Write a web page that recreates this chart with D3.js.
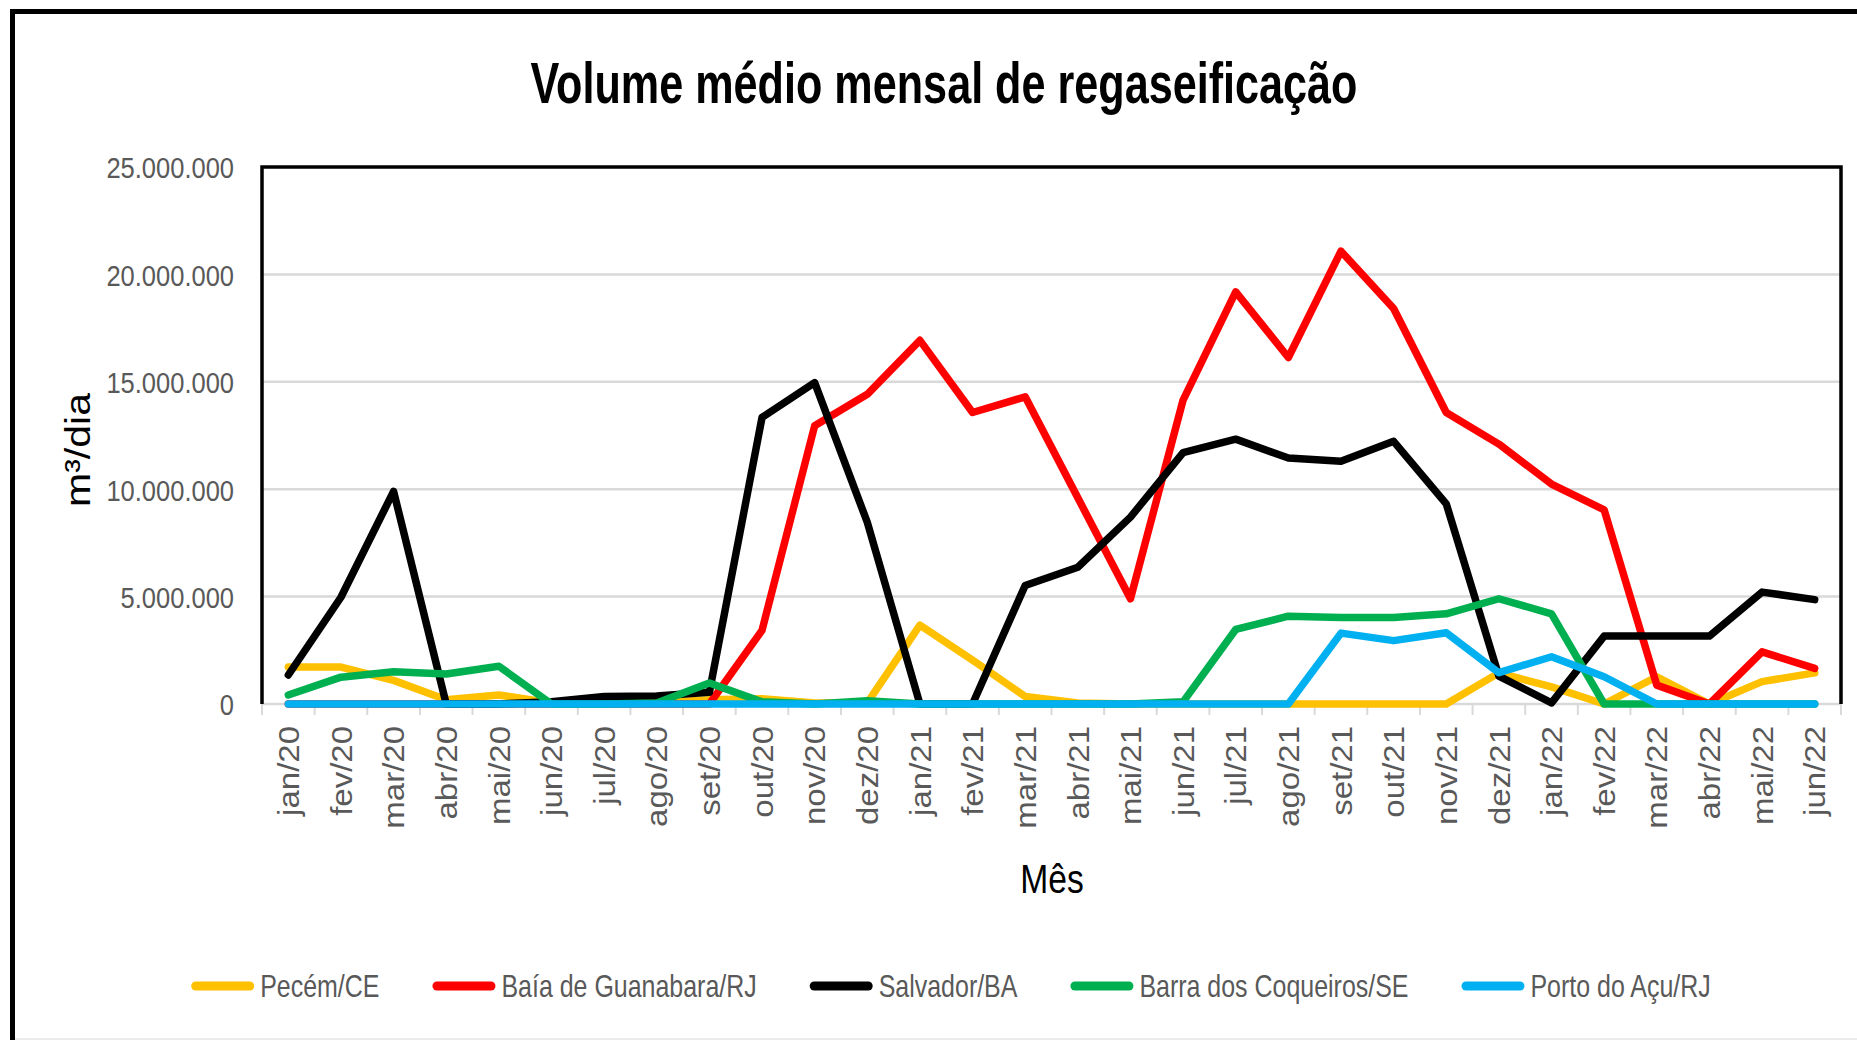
<!DOCTYPE html>
<html>
<head>
<meta charset="utf-8">
<script src="https://cdn.jsdelivr.net/npm/d3@7"></script>
<style>
  html, body { margin: 0; padding: 0; background: #fff; }
  svg { display: block; font-family: 'Liberation Sans', Arial, sans-serif; }
</style>
</head>
<body>
<div id="chart"></div>
<script>
const months = [
  'jan/20', 'fev/20', 'mar/20', 'abr/20', 'mai/20', 'jun/20', 'jul/20', 'ago/20', 'set/20', 'out/20', 'nov/20', 'dez/20',
  'jan/21', 'fev/21', 'mar/21', 'abr/21', 'mai/21', 'jun/21', 'jul/21', 'ago/21', 'set/21', 'out/21', 'nov/21', 'dez/21',
  'jan/22', 'fev/22', 'mar/22', 'abr/22', 'mai/22', 'jun/22',
];

// m³/dia, millions
const pecem = [1.72, 1.72, 1.1, 0.2, 0.42, 0.05, 0.05, 0.05, 0.2, 0.25, 0.05, 0.05,
  3.67, 2.04, 0.35, 0.05, 0, 0, 0, 0, 0, 0, 0, 1.45, 0.8, 0, 1.27, 0, 1.04, 1.45];
const guanabara = [0, 0, 0, 0, 0, 0, 0, 0, 0, 3.43, 12.95, 14.42,
  16.93, 13.57, 14.3, 9.6, 4.9, 14.15, 19.19, 16.13, 21.08, 18.41, 13.57, 12.1, 10.24, 9.04, 0.88, 0, 2.43, 1.66];
const salvador = [1.35, 4.97, 9.9, 0, 0, 0.1, 0.35, 0.37, 0.55, 13.34, 14.96, 8.46,
  0, 0, 5.52, 6.37, 8.7, 11.7, 12.33, 11.45, 11.3, 12.23, 9.32, 1.3, 0.05, 3.16, 3.16, 3.16, 5.21, 4.86];
const coqueiros = [0.42, 1.25, 1.5, 1.4, 1.76, 0, 0, 0.05, 0.98, 0.1, 0, 0.15,
  0, 0, 0, 0, 0, 0.1, 3.47, 4.09, 4.03, 4.03, 4.2, 4.9, 4.2, 0, 0, 0, 0, 0];
const acu = [0, 0, 0, 0, 0, 0, 0, 0, 0, 0, 0, 0,
  0, 0, 0, 0, 0, 0, 0, 0, 3.3, 2.95, 3.32, 1.46, 2.2, 1.27, 0, 0, 0, 0];

const seriesNames = ['Pecém/CE', 'Baía de Guanabara/RJ', 'Salvador/BA', 'Barra dos Coqueiros/SE', 'Porto do Açu/RJ'];
const seriesColors = ['#FFC000', '#FF0000', '#000000', '#00B050', '#00B0F0'];
const seriesValues = [pecem, guanabara, salvador, coqueiros, acu];
const yTicks = [0, 5e6, 10e6, 15e6, 20e6, 25e6];

const W = 1857;
const H = 1040;
const plot = { left: 262, right: 1841, top: 167, bottom: 704 };
const grey = '#595959';

const svg = d3.select('#chart')
  .append('svg')
  .attr('width', W)
  .attr('height', H);

// outer chart frame (only left/top visible)
svg.append('rect')
  .attr('x', 12.5).attr('y', 11.5)
  .attr('width', W + 50).attr('height', H + 50)
  .attr('fill', 'none')
  .attr('stroke', '#000')
  .attr('stroke-width', 5);

svg.append('line')
  .attr('x1', 15).attr('x2', W)
  .attr('y1', 1039).attr('y2', 1039)
  .attr('stroke', '#e4e4e4')
  .attr('stroke-width', 1.5);

const x = d3.scaleBand()
  .domain(months)
  .range([plot.left, plot.right]);

const y = d3.scaleLinear()
  .domain([0, 25e6])
  .range([plot.bottom, plot.top]);

const cx = d => x(d) + x.bandwidth() / 2;

// gridlines
svg.append('g')
  .selectAll('line')
  .data(yTicks.filter(d => d > 0 && d < 25e6))
  .enter()
  .append('line')
  .attr('x1', plot.left).attr('x2', plot.right)
  .attr('y1', d => y(d)).attr('y2', d => y(d))
  .attr('stroke', '#d9d9d9')
  .attr('stroke-width', 2.5);

// bottom axis line + ticks between categories
svg.append('line')
  .attr('x1', plot.left).attr('x2', plot.right)
  .attr('y1', y(0)).attr('y2', y(0))
  .attr('stroke', '#d9d9d9')
  .attr('stroke-width', 2.5);

const bounds = months.map(d => x(d)).concat([plot.right]);
svg.append('g')
  .selectAll('line')
  .data(bounds)
  .enter()
  .append('line')
  .attr('x1', d => d).attr('x2', d => d)
  .attr('y1', y(0)).attr('y2', y(0) + 11)
  .attr('stroke', '#d9d9d9')
  .attr('stroke-width', 2);

// plot area border
svg.append('path')
  .attr('d', `M${plot.left},${plot.bottom}V${plot.top}H${plot.right}V${plot.bottom}`)
  .attr('fill', 'none')
  .attr('stroke', '#000')
  .attr('stroke-width', 3.5);

// y axis labels
const locale = d3.formatLocale({ decimal: ',', thousands: '.', grouping: [3], currency: ['R$', ''] });
const yAxis = d3.axisLeft(y)
  .tickValues(yTicks)
  .tickSize(0)
  .tickFormat(locale.format(',.0f'));

const yg = svg.append('g')
  .attr('transform', `translate(${plot.left},0)`)
  .call(yAxis);
yg.select('.domain').remove();
yg.selectAll('text')
  .attr('x', -28 / 0.85)
  .attr('dy', '0.36em')
  .attr('transform', 'scale(0.85,1)')
  .attr('fill', grey)
  .style('font-size', '30px')
  .style('font-family', null);

// x axis labels
const xAxis = d3.axisBottom(x).tickSize(0);
const xg = svg.append('g')
  .attr('transform', `translate(0,${plot.bottom})`)
  .call(xAxis);
xg.select('.domain').remove();
xg.selectAll('text')
  .attr('x', 0)
  .attr('y', 0)
  .attr('dy', '0.36em')
  .attr('text-anchor', 'end')
  .attr('transform', 'translate(0,22) scale(0.9,1) rotate(-90)')
  .attr('fill', grey)
  .style('font-size', '33px')
  .style('font-family', null);

// series lines
const line = d3.line()
  .x((d, i) => cx(months[i]))
  .y(d => y(d * 1e6));

svg.append('g')
  .selectAll('path')
  .data(seriesValues)
  .enter()
  .append('path')
  .attr('d', d => line(d))
  .attr('fill', 'none')
  .attr('stroke', (d, i) => seriesColors[i])
  .attr('stroke-width', 7.5)
  .attr('stroke-linejoin', 'round')
  .attr('stroke-linecap', 'round');

// title
svg.append('text')
  .attr('x', 944)
  .attr('y', 103)
  .attr('text-anchor', 'middle')
  .attr('textLength', 827)
  .attr('lengthAdjust', 'spacingAndGlyphs')
  .style('font-size', '58px')
  .style('font-weight', 'bold')
  .text('Volume médio mensal de regaseificação');

// axis titles
svg.append('text')
  .attr('transform', 'translate(1052,893) scale(0.82,1)')
  .attr('text-anchor', 'middle')
  .style('font-size', '41px')
  .text('Mês');

svg.append('text')
  .attr('transform', 'translate(90,450) scale(0.85,1) rotate(-90)')
  .attr('text-anchor', 'middle')
  .style('font-size', '41px')
  .text('m³/dia');

// legend
const legendY = 986;
const legendSx = 0.78;
const swatch = 63;
const legend = svg.append('g');
const items = legend.selectAll('g')
  .data(seriesNames)
  .enter()
  .append('g');

items.append('line')
  .attr('x1', 4.5).attr('x2', swatch - 4.5)
  .attr('y1', legendY).attr('y2', legendY)
  .attr('stroke', (d, i) => seriesColors[i])
  .attr('stroke-width', 9)
  .attr('stroke-linecap', 'round');

items.append('text')
  .attr('transform', `translate(${swatch + 6},${legendY + 11}) scale(${legendSx},1)`)
  .attr('fill', grey)
  .style('font-size', '32px')
  .text(d => d);

let offset = 0;
const widths = [];
items.each(function () {
  const t = d3.select(this).select('text').node();
  widths.push(swatch + 6 + t.getComputedTextLength() * legendSx);
});
const gap = 53;
const total = d3.sum(widths) + gap * (widths.length - 1);
offset = 951 - total / 2;
items.attr('transform', (d, i) => {
  const tx = offset;
  offset += widths[i] + gap;
  return `translate(${tx},0)`;
});
</script>
</body>
</html>
